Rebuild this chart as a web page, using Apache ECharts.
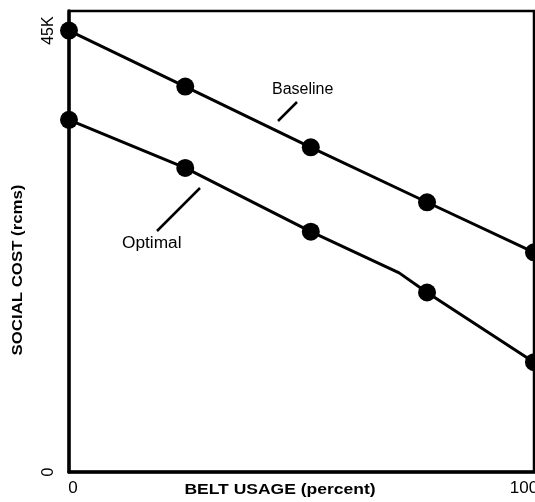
<!DOCTYPE html>
<html><head><meta charset="utf-8">
<script src="https://cdn.jsdelivr.net/npm/echarts@6/dist/echarts.min.js"></script>
<style>html,body{margin:0;padding:0;background:#fff}#c{width:535px;height:502px}</style>
</head><body><div id="c"></div>
<script>
var beltUsage = [0, 25, 52, 77, 100];
var baselineCost = [45000, 39300, 33100, 27500, 22400];
var optimalUsage = [0, 25, 52, 71, 77, 100];
var optimalCost = [35900, 31000, 24500, 20300, 18300, 11200];
var optimalMarked = [true, true, true, false, true, true];
var xTicks = [0, 100];
var yTicks = [0, 45000];
var yTickLabels = {0: '0', 45000: '45K'};

var chart = echarts.init(document.getElementById('c'));
var font = 'Liberation Sans, Arial, sans-serif';
chart.setOption({
  animation: false,
  backgroundColor: '#fff',
  grid: {left: 69, right: 1, top: 11, bottom: 30, show: true, borderColor: '#000', borderWidth: 2.5,
         containLabel: false, outerBoundsMode: 'none'},
  xAxis: {
    type: 'value', min: 0, max: 100, interval: 100,
    axisLine: {lineStyle: {color: '#000', width: 3.5}},
    axisTick: {show: false}, splitLine: {show: false},
    axisLabel: {color: '#000', fontFamily: font, fontSize: 17, margin: 8,
      formatter: function (v) {
        if (xTicks.indexOf(v) < 0) return '';
        return v === xTicks[0] ? '{first|' + v + '}' : '{last|' + v + '}';
      },
      rich: {
        first: {fontFamily: font, fontSize: 17, color: '#000', padding: [0, 0, 0, 8]},
        last: {fontFamily: font, fontSize: 17, color: '#000', padding: [0, 20, 0, 0]}
      }}
  },
  yAxis: {
    type: 'value', min: 0, max: 47000, interval: 45000,
    axisLine: {show: true, lineStyle: {color: '#000', width: 3.5}},
    axisTick: {show: false}, splitLine: {show: false},
    axisLabel: {color: '#000', fontFamily: font, fontSize: 16, rotate: 90, margin: 12,
      showMaxLabel: false,
      formatter: function (v) { return yTicks.indexOf(v) >= 0 ? yTickLabels[v] : ''; }}
  },
  series: [
    {type: 'line', name: 'Baseline', clip: false,
     data: beltUsage.map(function (x, i) { return [x, baselineCost[i]]; }),
     symbol: 'circle', symbolSize: 18,
     lineStyle: {color: '#000', width: 3}, itemStyle: {color: '#000'}},
    {type: 'line', name: 'Optimal', clip: false,
     data: optimalUsage.map(function (x, i) {
       return {value: [x, optimalCost[i]], symbol: optimalMarked[i] ? 'circle' : 'none'};
     }),
     symbol: 'circle', symbolSize: 18,
     lineStyle: {color: '#000', width: 3}, itemStyle: {color: '#000'}}
  ],
  graphic: [
    {type: 'text', x: 272, y: 82, style: {text: 'Baseline', font: '16px ' + font, fill: '#000'}},
    {type: 'line', shape: {x1: 278, y1: 121, x2: 297, y2: 102}, style: {stroke: '#000', lineWidth: 2.5}},
    {type: 'text', x: 122, y: 236, scaleX: 1.08, style: {text: 'Optimal', font: '16px ' + font, fill: '#000'}},
    {type: 'line', shape: {x1: 157, y1: 231, x2: 200, y2: 188}, style: {stroke: '#000', lineWidth: 2.5}},
    {type: 'text', x: 280, y: 490, scaleX: 1.25, style: {text: 'BELT USAGE (percent)', font: 'bold 14px ' + font, fill: '#000', align: 'center', verticalAlign: 'middle'}},
    {type: 'text', x: 18, y: 270, rotation: Math.PI / 2, scaleX: 1.2, style: {text: 'SOCIAL COST (rcms)', font: 'bold 14px ' + font, fill: '#000', align: 'center', verticalAlign: 'middle'}}
  ]
});
</script></body></html>
